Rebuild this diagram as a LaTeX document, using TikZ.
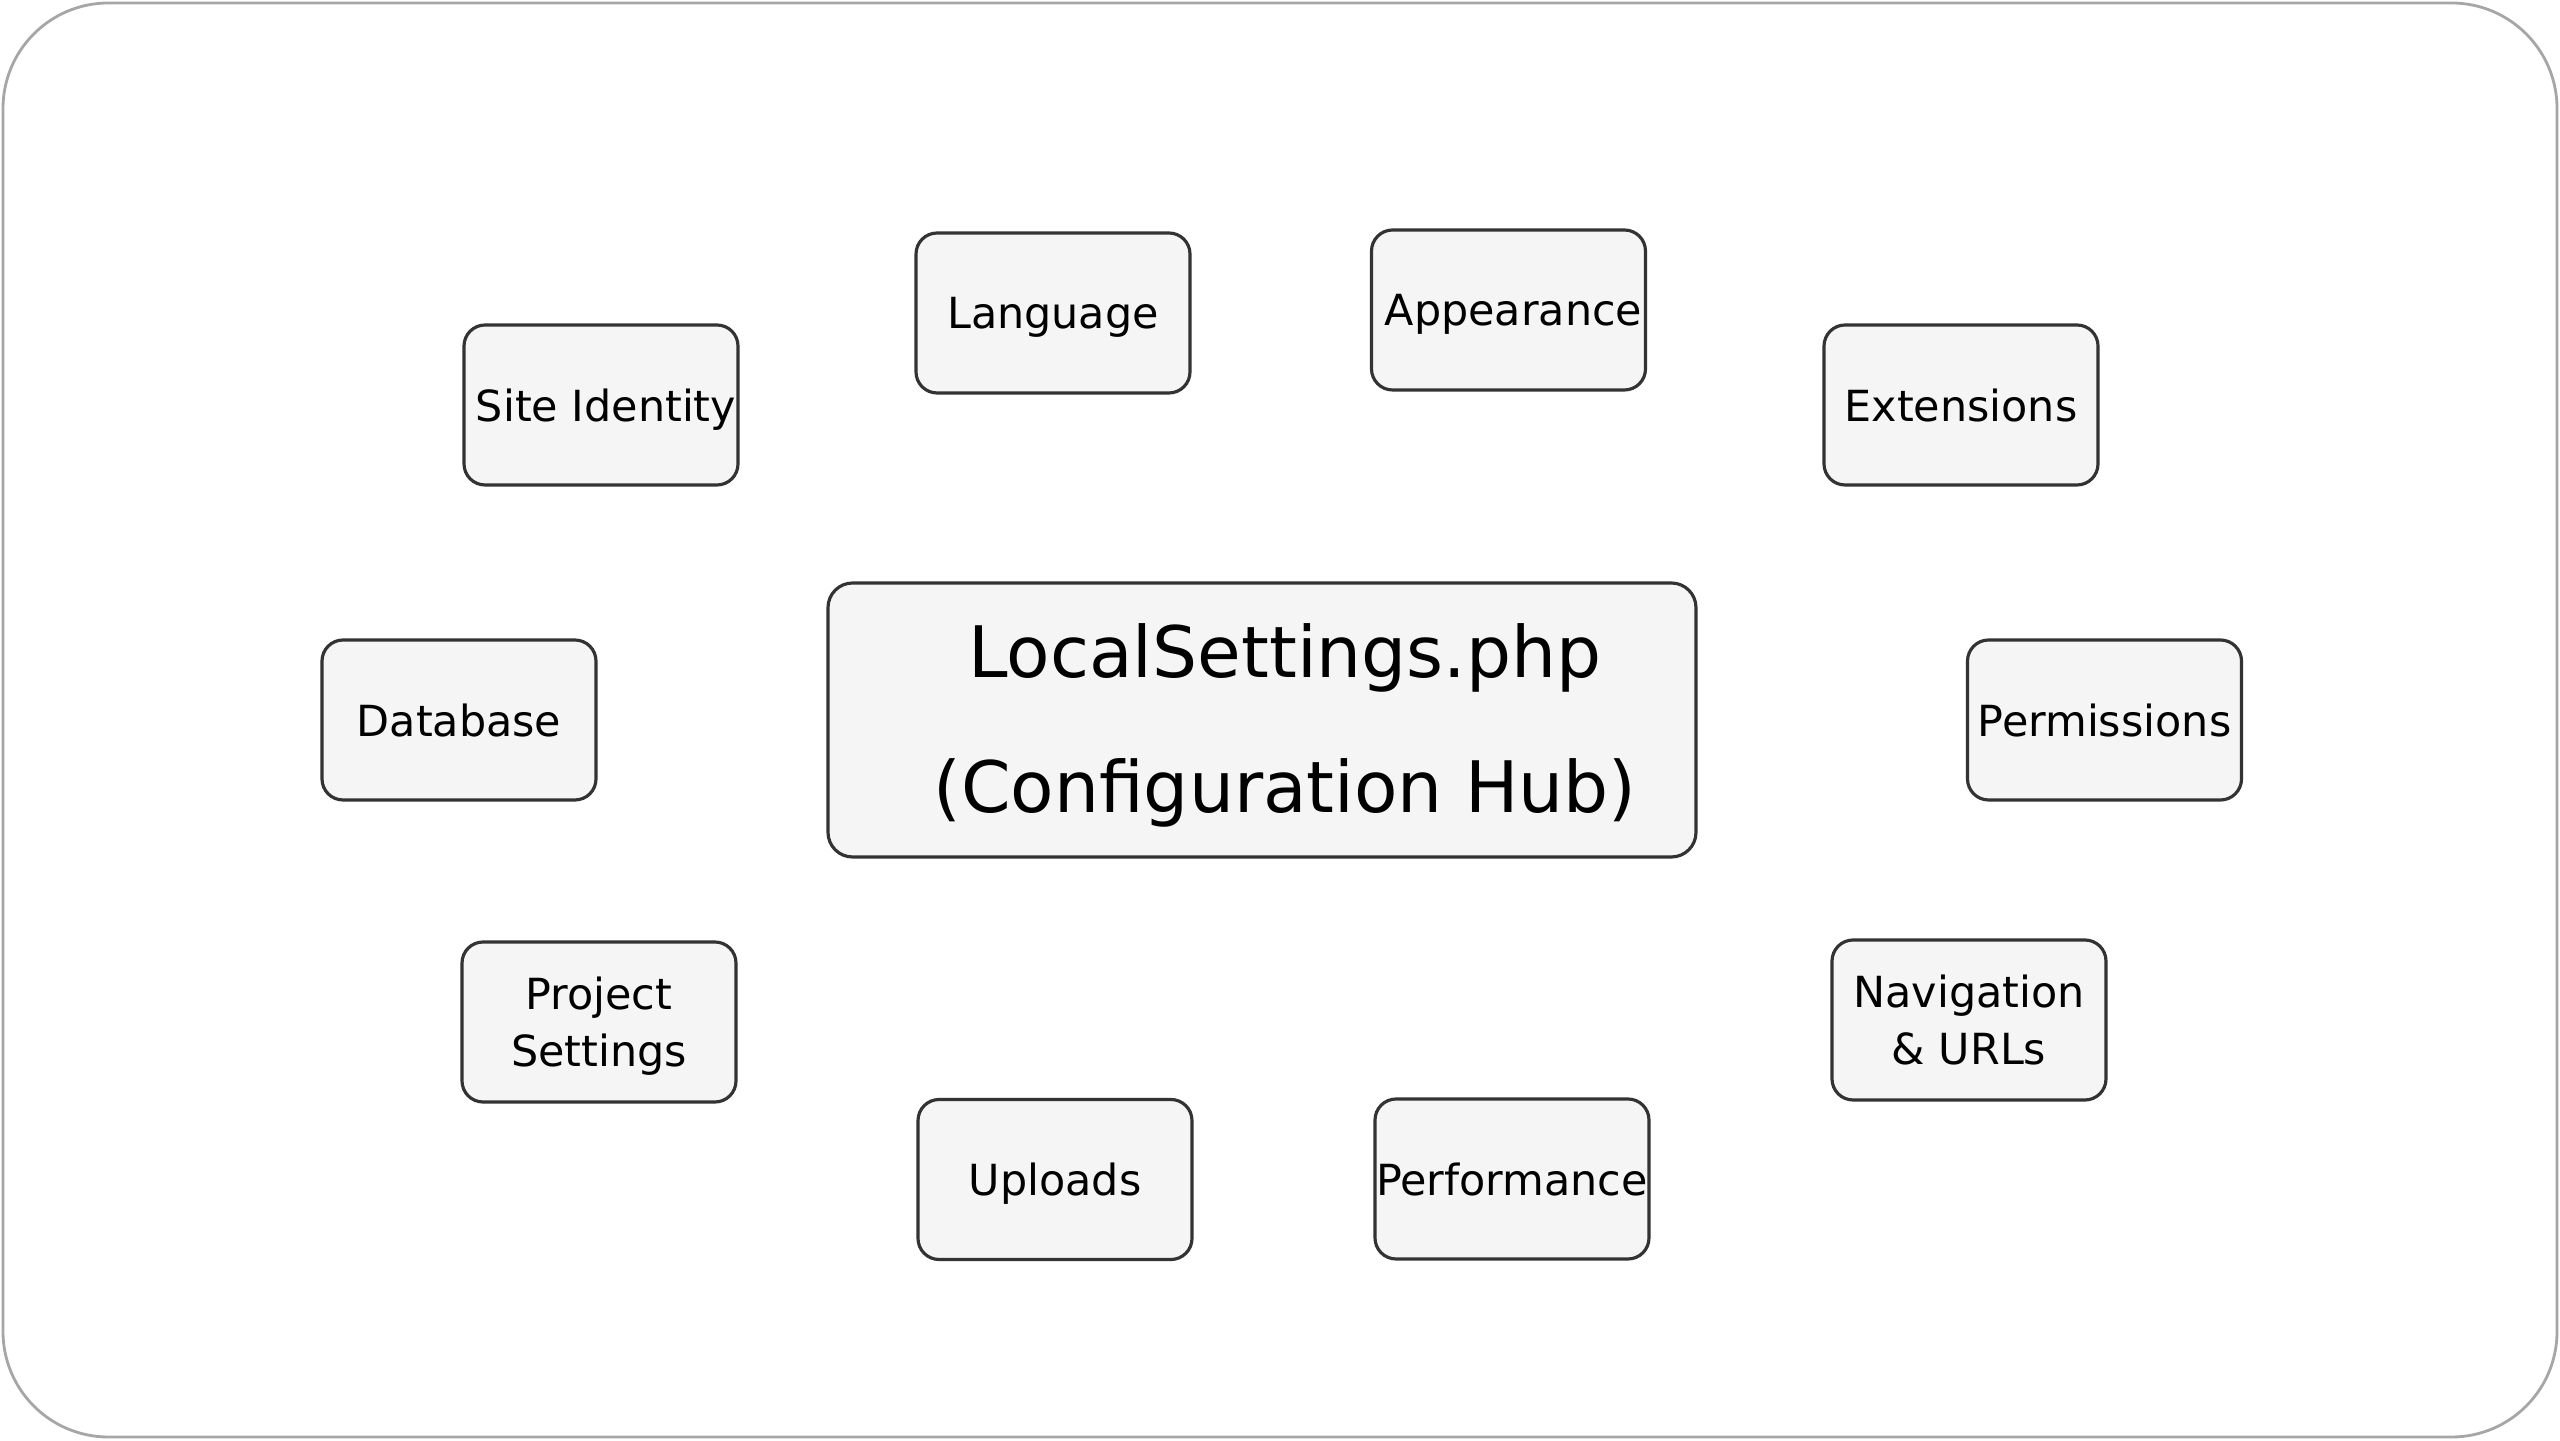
\documentclass[tikz,border=0pt]{standalone}
\usepackage{fontspec}
\setmainfont{DejaVu Sans}
\usetikzlibrary{positioning}
\definecolor{boxfill}{HTML}{F5F5F5}
\definecolor{boxline}{HTML}{333333}
\definecolor{frameline}{HTML}{A6A6A6}
\tikzstyle{sbox}=[rectangle, rounded corners=6pt, draw=boxline, fill=boxfill, line width=0.9pt, minimum width=27.4mm, minimum height=16mm, inner sep=0pt, text depth=0pt, align=center, font=\fontsize{12.2}{16.3}\selectfont]
\tikzstyle{hbox}=[rectangle, rounded corners=7pt, draw=boxline, fill=boxfill, line width=0.9pt, minimum width=86.8mm, minimum height=27.4mm, inner sep=0pt, text depth=1pt, align=center, font=\fontsize{20.2}{38.5}\selectfont]
\tikzstyle{frame}=[rounded corners=30pt, draw=frameline, line width=0.8pt]

\begin{document}
\begin{tikzpicture}
\useasboundingbox (0,0) rectangle (25.6,14.4);
\draw[frame] (0.03,0.03) rectangle (25.57,14.37);
\node (LS) [hbox] at (12.62,7.20) {\hspace*{4.6mm}LocalSettings.php\\\hspace*{4.6mm}(Configuration Hub)};
\node (SITEID) [sbox] at (6.01,10.35) {\hspace*{1mm}Site Identity};
\node (LANG) [sbox] at (10.53,11.27) {Language};
\node (LOOK) [sbox] at (15.085,11.30) {\hspace*{1mm}Appearance};
\node (EXT) [sbox] at (19.61,10.35) {Extensions};
\node (DB) [sbox] at (4.59,7.20) {Database};
\node (PERM) [sbox] at (21.045,7.20) {Permissions};
\node (PROJ) [sbox] at (5.99,4.18) {Project\\Settings};
\node (NAV) [sbox] at (19.69,4.20) {Navigation\\\& URLs};
\node (UPL) [sbox] at (10.55,2.605) {Uploads};
\node (PERF) [sbox] at (15.12,2.61) {Performance};
\end{tikzpicture}
\end{document}
